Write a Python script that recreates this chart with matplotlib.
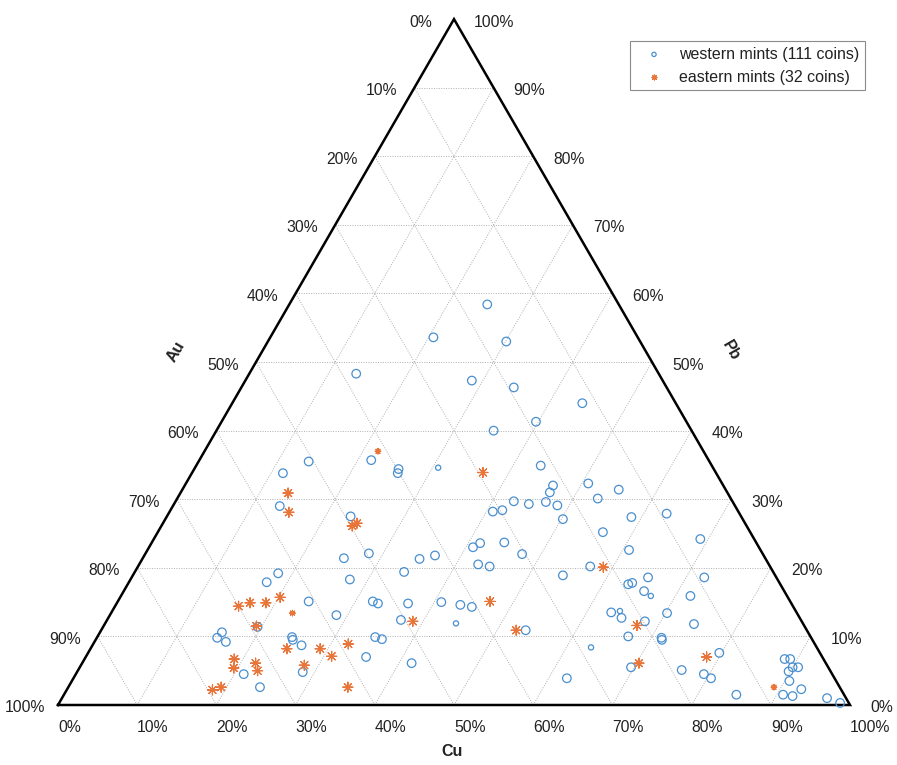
import numpy as np
import matplotlib.pyplot as plt

# Coin compositions in percent; Au is the remainder (100 - Cu - Pb)
western_cu = [25.0, 20.6, 30.1, 13.5, 28.6, 34.4, 44.2, 39.7, 35.0, 21.7,
              25.8, 26.0, 30.7, 43.5, 13.9, 11.5, 13.5, 46.5, 46.6, 50.8,
              53.1, 42.7, 44.8, 46.8, 48.5, 40.8, 41.9, 50.2, 23.2, 55.1,
              58.7, 62.9, 56.2, 60.8, 69.0, 40.9, 41.5, 44.5, 47.6, 28.2,
              25.4, 35.0, 36.7, 42.8, 44.4, 57.1, 54.3, 27.7, 34.0, 18.2,
              17.4, 65.2, 63.2, 63.6, 72.3, 65.7, 66.9, 71.9, 24.1, 32.2,
              33.0, 36.8, 40.9, 43.5, 45.1, 63.1, 64.1, 64.8, 68.0, 70.2,
              74.4, 67.0, 71.3, 71.5, 28.6, 15.4, 15.2, 16.6, 19.5, 24.6,
              24.9, 26.4, 28.5, 21.2, 24.2, 37.1, 44.3, 53.6, 35.1, 36.1,
              35.4, 41.6, 63.1, 62.3, 69.6, 76.2, 79.7, 79.3, 80.5, 84.9,
              88.4, 89.1, 90.0, 90.7, 89.8, 90.6, 92.7, 90.8, 92.1, 96.6,
              98.6]
western_pb = [58.4, 53.6, 53.0, 48.3, 47.3, 46.3, 44.0, 41.3, 40.0, 35.7,
              34.4, 33.8, 34.6, 34.9, 35.5, 33.8, 29.0, 32.0, 31.0, 32.3,
              30.1, 29.7, 29.3, 29.6, 29.1, 28.2, 28.4, 27.1, 27.5, 31.4,
              27.4, 27.9, 25.2, 22.6, 24.2, 23.0, 23.6, 23.7, 22.0, 22.1,
              21.4, 21.3, 21.8, 20.5, 20.2, 20.2, 18.9, 18.3, 19.4, 19.2,
              17.9, 18.6, 17.6, 17.8, 18.6, 16.6, 15.9, 15.9, 15.1, 15.1,
              14.8, 14.8, 15.0, 14.6, 14.3, 13.5, 13.7, 12.7, 12.2, 13.4,
              11.8, 10.0, 9.8, 9.5, 13.1, 10.6, 9.8, 9.2, 11.4, 9.9,
              9.5, 8.7, 4.8, 4.5, 2.6, 12.4, 11.9, 10.9, 9.9, 9.6,
              7.0, 6.1, 8.4, 3.9, 5.5, 5.1, 7.6, 4.5, 3.9, 1.5,
              6.7, 6.7, 5.5, 5.5, 4.9, 3.5, 2.3, 1.5, 1.3, 1.0,
              0.3]

eastern_cu = [21.9, 36.7, 13.6, 15.1, 24.1, 24.5, 15.6, 16.8, 18.8, 20.2,
              22.9, 19.3, 24.8, 29.0, 31.0, 32.2, 18.9, 19.5, 21.9, 22.7,
              28.2, 18.4, 19.3, 35.3, 47.0, 38.7, 52.4, 58.8, 67.3, 70.3,
              78.4, 89.1]
eastern_pb = [37.0, 33.9, 30.9, 28.1, 26.1, 26.5, 14.4, 14.9, 14.9, 15.7,
              13.4, 11.5, 8.2, 8.2, 7.1, 8.9, 6.7, 5.4, 6.1, 5.0,
              5.8, 2.2, 2.6, 2.6, 15.1, 12.2, 10.9, 20.1, 11.6, 6.1,
              7.0, 2.6]

ticks = [0, 10, 20, 30, 40, 50, 60, 70, 80, 90, 100]

# markers drawn smaller (index into the lists above)
western_small = [12, 56, 66, 86, 92]
eastern_small = [0, 10, 31]

BLUE = '#4a8fcf'
ORANGE = '#e8763a'
TEXT = '#222222'
H = np.sqrt(3) / 2


def tern(cu, pb):
    cu = np.asarray(cu, float) / 100
    pb = np.asarray(pb, float) / 100
    return cu + pb / 2, pb * H


plt.rcParams['font.family'] = ['Liberation Sans', 'DejaVu Sans']
plt.rcParams['text.color'] = TEXT

fig = plt.figure(figsize=(8.97, 7.65), dpi=100)
ax = fig.add_axes([0, 0, 1, 1])
ax.set_xlim(-58 / 792, 839 / 792)
ax.set_ylim(-60 / 792, 705 / 792)
ax.axis('off')

# grid
grid_kw = dict(color='#b0b0b0', lw=0.7, ls=(0, (1, 1.5)), zorder=1)
for t in ticks[1:-1]:
    # constant Pb
    x, y = tern([0, 100 - t], [t, t])
    ax.plot(x, y, **grid_kw)
    # constant Cu
    x, y = tern([t, t], [0, 100 - t])
    ax.plot(x, y, **grid_kw)
    # constant Au
    x, y = tern([100 - t, 0], [0, 100 - t])
    ax.plot(x, y, **grid_kw)

# triangle outline
x, y = tern([0, 100, 0, 0], [0, 0, 100, 0])
ax.plot(x, y, color='black', lw=1.8, solid_joinstyle='miter', zorder=3)

# tick labels
for t in ticks:
    # Cu along the bottom
    x, y = tern(t, 0)
    ax.annotate(f'{t}%', (x, y), xytext=(0, -23), textcoords='offset pixels',
                ha='left', va='center', fontsize=11.3)
    # Au along the left side
    x, y = tern(0, 100 - t)
    ax.annotate(f'{t}%', (x, y), xytext=(-33, -3), textcoords='offset pixels',
                ha='center', va='center', fontsize=11.3)
    # Pb along the right side
    x, y = tern(100 - t, t)
    ax.annotate(f'{t}%', (x, y), xytext=(20, -3), textcoords='offset pixels',
                ha='left', va='center', fontsize=11.3)

# axis titles
x, y = tern(0, 50)
ax.annotate('Au', (x, y), xytext=(-80, 11), textcoords='offset pixels',
            ha='center', va='center', rotation=60, fontsize=11.5, fontweight='bold')
x, y = tern(50, 50)
ax.annotate('Pb', (x, y), xytext=(79, 11), textcoords='offset pixels',
            ha='center', va='center', rotation=-60, fontsize=11.5, fontweight='bold')
x, y = tern(50, 0)
ax.annotate('Cu', (x, y), xytext=(-2, -47), textcoords='offset pixels',
            ha='center', va='center', fontsize=11.5, fontweight='bold')

# data
wx, wy = tern(western_cu, western_pb)
ex, ey = tern(eastern_cu, eastern_pb)
w_size = np.full(len(wx), 38.0)
w_size[western_small] = 14
e_size = np.full(len(ex), 52.0)
e_size[eastern_small] = 16

ax.scatter(wx, wy, s=w_size, facecolors='none', edgecolors=BLUE, linewidths=0.9,
           zorder=4, label='western mints (111 coins)')
ax.scatter(ex, ey, s=e_size, marker=(8, 2, 0), color=ORANGE, linewidths=0.85,
           zorder=5, label='eastern mints (32 coins)')

leg = ax.legend(loc='upper right', bbox_to_anchor=(865 / 897, 1 - 41 / 765),
                borderaxespad=0, fontsize=11.5, markerscale=0.6,
                handlelength=2.25, handletextpad=0.45, borderpad=0.35,
                labelspacing=0.5, fancybox=False, framealpha=1)
leg.get_frame().set_edgecolor('#8c8c8c')
leg.get_frame().set_linewidth(0.8)

plt.savefig('out.png', dpi=100)
plt.close()
